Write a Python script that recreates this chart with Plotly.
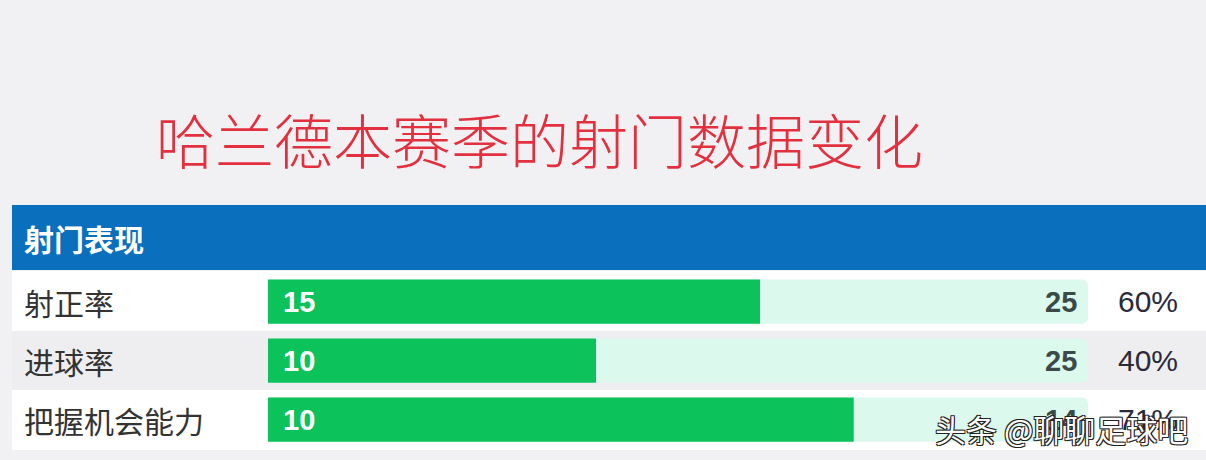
import plotly.graph_objects as go

# shooting data
categories = ['射正率', '进球率', '把握机会能力']
made = [15, 10, 10]
totals = [25, 25, 14]
percent_labels = ['60%', '40%', '71%']

title_text = '哈兰德本赛季的射门数据变化'
header_text = '射门表现'
watermark = '头条 @聊聊足球吧'

W, H = 1206, 460


def py(px):
    # pixel row from top -> paper fraction
    return 1 - px / H


def pxx(px):
    return px / W


ratios = [m / t for m, t in zip(made, totals)]

fig = go.Figure()
fig.add_trace(go.Bar(
    y=categories, x=[1] * len(categories), orientation='h',
    marker=dict(color='#dcf9ee', line=dict(width=0)),
    width=0.75, hoverinfo='skip', showlegend=False
))
fig.add_trace(go.Bar(
    y=categories, x=ratios, orientation='h',
    marker=dict(color='#0bc35a', line=dict(width=0)),
    width=0.75, hoverinfo='skip', showlegend=False
))

shapes = [
    # header band
    dict(type='rect', xref='paper', yref='paper', x0=pxx(12), x1=1, y0=py(270), y1=py(205),
         fillcolor='#0a70bd', line=dict(width=0), layer='below'),
    # table body
    dict(type='rect', xref='paper', yref='paper', x0=pxx(12), x1=1, y0=py(450), y1=py(271),
         fillcolor='#ffffff', line=dict(width=0), layer='below'),
    # striped middle row
    dict(type='rect', xref='paper', yref='paper', x0=pxx(12), x1=1, y0=py(390), y1=py(331),
         fillcolor='#eeeef1', line=dict(width=0), layer='below'),
]

annotations = [
    dict(text=title_text, xref='paper', yref='paper', x=pxx(154), y=py(139),
         xanchor='left', yanchor='middle', showarrow=False,
         font=dict(family='Noto Sans CJK SC', size=59, color='#e2303f', weight=300)),
    dict(text=header_text, xref='paper', yref='paper', x=pxx(22), y=py(238),
         xanchor='left', yanchor='middle', showarrow=False,
         font=dict(family='Noto Sans CJK SC', size=30, color='#ffffff', weight='bold')),
]

for cat, m, t, p in zip(categories, made, totals, percent_labels):
    annotations.append(dict(text=cat, x=pxx(22), xref='paper', y=cat, yref='y',
                            xanchor='left', yanchor='middle', showarrow=False,
                            font=dict(family='Noto Sans CJK SC', size=30, color='#333333')))
    annotations.append(dict(text=str(m), x=0, xref='x', y=cat, yref='y', xshift=13,
                            xanchor='left', yanchor='middle', showarrow=False,
                            font=dict(family='Liberation Sans', size=29, color='#ffffff', weight='bold')))
    annotations.append(dict(text=str(t), x=1, xref='x', y=cat, yref='y', xshift=-9,
                            xanchor='right', yanchor='middle', showarrow=False,
                            font=dict(family='Liberation Sans', size=29, color='#3a4a48', weight='bold')))
    annotations.append(dict(text=p, x=pxx(1148), xref='paper', y=cat, yref='y',
                            xanchor='center', yanchor='middle', showarrow=False,
                            font=dict(family='Liberation Sans', size=30, color='#2a2a3a')))

# site watermark sits on top of the last row, as in the source image
annotations.append(dict(
    text=watermark, xref='paper', yref='paper', x=pxx(1190), y=py(428),
    xanchor='right', yanchor='middle', showarrow=False,
    font=dict(family='Noto Sans CJK SC', size=31, color='#ffffff',
              shadow='-1px -1px 0 #222, 1px -1px 0 #222, -1px 1px 0 #222, 1px 1px 0 #222')
))

fig.update_layout(
    width=W, height=H,
    margin=dict(l=0, r=0, t=0, b=0),
    paper_bgcolor='#f1f1f3', plot_bgcolor='rgba(0,0,0,0)',
    barmode='overlay', barcornerradius=6,
    xaxis=dict(domain=[pxx(268), pxx(1088)], range=[0, 1], visible=False, fixedrange=True),
    yaxis=dict(domain=[py(449), py(272)], autorange='reversed', visible=False, fixedrange=True),
    shapes=shapes, annotations=annotations, showlegend=False
)

fig.write_html('out.html', config={'displayModeBar': False},
               post_script="document.body.style.margin='0';")
